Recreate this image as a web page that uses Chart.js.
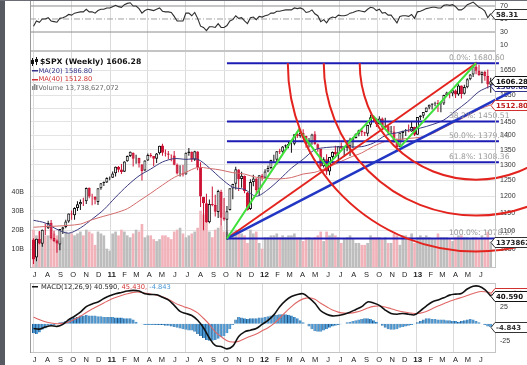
<!DOCTYPE html>
<html>
<head>
<meta charset="utf-8">
<title>$SPX Weekly</title>
<script src="https://cdn.jsdelivr.net/npm/chart.js@4.4.1/dist/chart.umd.min.js"></script>
<style>
  html, body { margin: 0; padding: 0; background: #fff; }
  #wrap { position: relative; width: 527px; height: 365px; overflow: hidden; background: #fff; }
  #wrap canvas { position: absolute; left: 0; }
  #rsiChart { top: 0; }
  #priceChart { top: 51px; }
  #macdChart { top: 281px; }
  .edge { position: absolute; left: 0; top: 0; width: 5px; height: 365px; background: #575b61; }
  .topline { position: absolute; left: 0; top: 0; width: 527px; height: 1px; background: #6a6e74; }
</style>
</head>
<body>
<div id="wrap">
  <canvas id="rsiChart" width="527" height="51"></canvas>
  <canvas id="priceChart" width="527" height="230"></canvas>
  <canvas id="macdChart" width="527" height="84"></canvas>
  <div class="edge"></div>
  <div class="topline"></div>
</div>
<script>
// ===== DATA (weekly, week 0 = Jul 2 2010) =====
const closes = [
  1022.58,1077.96,1064.88,1102.66,1101.60,1121.64,1079.25,1071.69,1064.59,1104.51,
  1109.55,1125.59,1148.67,1146.24,1165.15,1176.19,1183.08,1183.26,1225.85,1199.21,
  1199.73,1189.40,1224.71,1240.40,1243.91,1256.77,1257.64,1271.50,1293.24,1283.35,
  1276.34,1310.87,1329.15,1343.01,1319.88,1321.15,1304.28,1279.20,1313.80,1332.41,
  1328.17,1319.68,1337.38,1363.61,1340.20,1337.77,1333.27,1331.10,1300.16,1270.98,
  1271.50,1268.45,1339.67,1343.80,1316.14,1345.02,1292.28,1199.38,1178.81,1123.53,
  1176.80,1173.97,1154.23,1216.01,1136.43,1131.42,1155.46,1224.58,1238.25,1285.09,
  1253.23,1263.85,1215.65,1158.67,1244.28,1255.19,1219.66,1265.33,1257.60,1277.81,
  1289.09,1315.38,1316.33,1344.90,1342.64,1361.23,1365.74,1369.63,1370.87,1404.17,
  1397.11,1408.47,1398.08,1370.26,1378.53,1403.36,1369.10,1353.39,1295.22,1317.82,
  1278.04,1325.66,1342.84,1335.02,1362.16,1354.68,1356.78,1362.66,1385.97,1390.99,
  1405.87,1418.16,1411.13,1406.58,1437.92,1465.77,1460.15,1440.67,1460.93,1428.59,
  1433.19,1411.94,1414.20,1379.85,1359.88,1409.15,1416.18,1418.07,1413.58,1430.15,
  1402.43,1466.47,1472.05,1485.98,1502.96,1513.17,1517.93,1519.79,1515.60,1518.20,
  1551.18,1560.70,1556.89,1569.19,1553.28,1588.85,1555.25,1582.24,1614.42,1633.70,
  1667.47,1649.60,1630.74,1643.38,1626.73,1592.43,1606.28
];
const opens = [
  1076,1028,1077,1064,1102,1107,1122,1080,1073,1062,
  1103,1110,1126,1149,1144,1165,1176,1184,1185,1226,
  1200,1198,1183,1225,1241,1243,1256,1258,1272,1293,
  1284,1277,1311,1329,1340,1321,1322,1301,1281,1314,
  1333,1329,1320,1338,1365,1340,1337,1333,1331,1300,
  1271,1272,1268,1339,1343,1316,1344,1292,1198,1179,
  1124,1177,1174,1153,1214,1137,1131,1159,1224,1239,
  1284,1254,1263,1212,1162,1244,1255,1220,1265,1258,
  1278,1289,1315,1316,1345,1343,1361,1366,1370,1371,
  1405,1397,1409,1398,1370,1378,1404,1369,1353,1295,
  1318,1278,1326,1343,1335,1363,1355,1357,1362,1385,
  1391,1406,1418,1411,1406,1438,1466,1460,1441,1461,
  1429,1433,1412,1414,1380,1360,1409,1416,1418,1414,
  1430,1402,1466,1472,1486,1503,1513,1518,1520,1515,
  1518,1551,1561,1557,1569,1553,1589,1556,1582,1614,
  1634,1667,1649,1631,1644,1627,1592
];
const highs = [
  1079,1078,1099,1103,1120,1128,1130,1100,1076,1105,
  1111,1131,1149,1158,1167,1185,1190,1196,1227,1227,
  1208,1200,1225,1241,1246,1259,1262,1278,1294,1296,
  1302,1311,1331,1344,1341,1333,1323,1302,1315,1337,
  1339,1329,1339,1364,1371,1351,1346,1334,1346,1304,
  1298,1299,1341,1356,1344,1347,1345,1308,1199,1208,
  1190,1230,1205,1220,1220,1195,1171,1224,1239,1293,
  1285,1277,1265,1213,1253,1267,1256,1266,1270,1285,
  1297,1316,1333,1345,1354,1363,1368,1379,1375,1405,
  1414,1419,1422,1399,1391,1406,1415,1372,1354,1325,
  1335,1326,1344,1364,1363,1375,1357,1380,1392,1394,
  1407,1420,1426,1413,1438,1475,1467,1460,1470,1465,
  1464,1434,1434,1434,1389,1410,1417,1423,1439,1448,
  1431,1467,1473,1486,1503,1514,1518,1525,1531,1525,
  1552,1564,1563,1570,1573,1594,1589,1592,1618,1636,
  1668,1687,1674,1646,1649,1654,1620
];
const lows = [
  1011,1018,1063,1056,1088,1105,1076,1069,1040,1047,
  1091,1107,1122,1131,1131,1156,1159,1171,1177,1194,
  1173,1176,1174,1220,1232,1241,1250,1257,1262,1275,
  1270,1276,1310,1326,1294,1303,1291,1249,1279,1312,
  1324,1295,1306,1334,1330,1327,1318,1311,1298,1268,
  1262,1262,1268,1330,1309,1312,1282,1168,1101,1122,
  1121,1170,1140,1136,1114,1128,1075,1158,1191,1221,
  1216,1226,1209,1158,1159,1231,1209,1202,1248,1258,
  1275,1285,1306,1300,1336,1340,1355,1355,1340,1366,
  1391,1392,1397,1357,1358,1367,1367,1343,1292,1291,
  1267,1266,1306,1324,1309,1352,1326,1345,1329,1355,
  1389,1397,1398,1398,1397,1428,1450,1430,1439,1425,
  1425,1403,1405,1373,1343,1359,1385,1398,1411,1413,
  1398,1402,1456,1462,1485,1496,1495,1507,1486,1485,
  1512,1548,1538,1546,1539,1548,1537,1553,1578,1610,
  1623,1635,1628,1598,1608,1577,1560
];
// weekly volume, billions of shares
const volumes = [
  20,17,19,18,17,17,16,18,17,14,
  16,19,18,18,17,18,19,17,20,19,
  18,12,19,18,17,10,9,18,19,17,
  20,19,17,16,18,20,19,23,16,17,
  17,15,14,15,17,17,16,15,19,20,
  21,18,16,17,18,19,21,30,28,24,
  19,16,20,21,22,19,19,18,19,20,
  18,18,17,13,20,18,19,13,10,16,
  16,17,17,18,16,17,16,17,17,18,
  16,16,14,16,16,15,16,17,19,14,
  19,17,18,17,16,13,15,16,17,15,
  13,13,12,12,13,17,16,16,16,15,
  16,13,13,18,17,12,17,17,16,18,
  13,16,17,16,17,16,15,15,18,16,
  16,16,15,14,16,17,17,16,16,15,
  16,16,15,17,16,19,13.74
];
// moving averages, one value every 4th week (weeks 0, 4, 8 ... 156)
const ma20 = [
  1129.3,1121.7,1103.8,1093.0,1107.7,1132.7,1160.2,1197.3,1232.8,1263.7,
  1285.9,1309.0,1320.1,1317.7,1318.1,1289.5,1255.5,1227.8,1221.1,1200.2,
  1220.7,1252.7,1288.7,1318.2,1350.3,1358.0,1360.3,1359.9,1360.8,1373.4,
  1399.4,1409.4,1419.2,1426.4,1438.8,1455.8,1489.5,1523.7,1564.3,1586.8
];
const ma40 = [
  1109.5,1111.6,1112.8,1114.9,1118.5,1131.0,1141.0,1150.6,1162.9,1185.7,
  1209.3,1234.6,1258.7,1275.3,1290.9,1287.7,1282.3,1274.0,1269.4,1259.2,
  1255.1,1254.1,1258.3,1269.7,1275.3,1289.4,1306.5,1324.3,1339.5,1361.9,
  1378.7,1384.9,1389.6,1393.6,1406.1,1427.6,1449.5,1471.5,1495.4,1512.8
];
const rsi14 = [
  39,47,45,50,50,52,47,46,45,51,
  52,54,57,56,59,60,61,61,65,61,
  61,59,63,65,65,67,67,69,71,69,
  68,72,74,75,70,70,66,59,63,65,
  64,63,65,67,62,61,61,60,54,47,
  47,47,59,59,55,60,51,39,37,32,
  38,38,37,43,37,37,40,47,49,55,
  51,52,47,43,52,53,49,54,53,55,
  56,59,59,62,62,63,64,64,64,67,
  66,67,65,60,61,64,58,55,46,49,
  44,51,53,52,56,55,55,56,59,60,
  62,63,62,61,65,68,67,63,65,59,
  60,56,56,50,44,54,55,55,54,57,
  51,61,62,64,66,67,68,68,67,67,
  71,72,71,72,69,64,64,67,72,74,
  76,72,68,66,62,52,58.31
];
// MACD(12,26,9), lines one value every 2nd week (weeks 0, 2 ... 156)
const macdLine = [
  -7,-8,-5,-3,-4,-1,6,11,17,25,
  29,32,37,41,44,46,48,49,48,44,
  43,42.5,39,35,27,18,15,12,5,-6,
  -21,-32,-33.5,-37,-33,-19,-12,-9.5,-7,-1,
  5,13,25,34,40,43,44,38,30,19,
  14,11.5,12,14,17,21,25,32,30.5,27,
  20,15,14,15,14,13,19,26,32,35,
  38,42,43.5,44.5,51,55,55,50,40.59
];
const macdSignal = [
  9.5,6,3,1,0,0.5,2.5,6.5,11,16.5,
  21.5,26,30.5,35,38.5,41.5,44,46,46.5,45,
  43.5,42,39.5,36,31,27,24,21,16,8,
  -1,-12,-19,-25,-27,-26,-22,-18.5,-15,-10.5,
  -6,0,8,17,25,32,36.5,38,36,30,
  25,20,17,15.5,15.5,17,19.5,23,25.5,26,
  24.5,22,19.5,17.5,16,15,15.5,18,22,26,
  29.5,33,36,38.5,41.5,44.5,47,47,45.43
];
const macdHist = [
  -14,-15,-13,-9,-7,-3,-2,-2,-1,2,
  3,4,6,8,9,10,12,12,13,12,
  12,12,11,11,10,10,10,10,9,9,
  9,8,8,8,6,3,0,-1,-2,-2,
  -2,-2,-2,-2,-2,-3,-3,-4,-5,-6,
  -7,-8,-9,-10,-10,-12,-15,-18,-21,-24,
  -25,-25,-24,-22,-20,-18,-14,-8,-2,6,
  10,9,8,7,8,8,8,9,9,10,
  11,12,13,13,14,14,14,13,12,10,
  8,5,2,0,-4,-8,-11,-12,-12,-10,
  -8,-6,-4,-3,-2,-1,0,2,3,4,
  5,6,7,8,8,7,5,3,0,-3,
  -6,-8,-9,-9,-8,-6,-5,-4,-3,-2,
  -1,2,4,6,8,8,7,7,6,6,
  6,5,5,4,4,3,4,5,6,7,
  6,4,2,0,-2,-4,-4.843
];

// month starts in week units, and their labels
const monthTicks = [
  -0.143,4.286,8.714,13.0,17.429,21.714,26.143,30.571,34.571,39.0,43.286,47.714,
  52.0,56.429,60.857,65.143,69.571,73.857,78.286,82.714,86.857,91.286,95.571,100.0,
  104.286,108.714,113.143,117.429,121.857,126.143,130.571,135.0,139.0,143.429,147.714,152.143
];
const monthLabels = [
  "J","A","S","O","N","D","11","F","M","A","M","J",
  "J","A","S","O","N","D","12","F","M","A","M","J",
  "J","A","S","O","N","D","13","F","M","A","M","J"
];
const priceTicks = [1050,1100,1150,1200,1250,1300,1350,1400,1450,1500,1550,1600,1650];
const volumeTicks = [10,20,30,40];
const rsiTicks = [70,50,30,10];
const rsiLevels = [70,50,30];
const macdTicks = [25,-25];

// drawing tools on the price panel
const fibNames = ["0.0%","38.2%","50.0%","61.8%","100.0%"];
const fibPrices = [1680.60,1450.51,1379.44,1308.36,1078.27];
const swingWeeks = [66,90.5,100,116,125.3,151];
const swingPrices = [1078.27,1420,1295,1470,1362,1680.60];
const fanWeeks = [66,163];
const fanPrices = [1078.27,1564];
const arcRatios = [0.382,0.5,0.618];

// ===== LAYOUT =====
const X_MIN = -1.2, X_MAX = 157.8;
const LEFT = 30, RIGHT_AXIS = 31;

Chart.defaults.font.family = "'Liberation Sans', Arial, sans-serif";
Chart.defaults.font.size = 7;
Chart.defaults.color = '#333';

const upWeek = i => closes[i] >= opens[i];
const pts = (arr, step) => arr.map((v, i) => ({ x: i * step, y: v }));

function timeAxis(labelHeight) {
  return {
    type: 'linear', min: X_MIN, max: X_MAX, offset: false, bounds: 'data',
    border: { display: false },
    grid: {
      offset: false, drawTicks: false, lineWidth: 1,
      color: c => (c.index % 3 === 0 ? '#dadada' : 'rgba(0,0,0,0)')
    },
    ticks: {
      display: labelHeight > 0, autoSkip: false, maxRotation: 0, minRotation: 0,
      padding: 2, labelOffset: 1.5, color: '#222',
      font: c => (/\d/.test(monthLabels[c.index]) ? { size: 8, weight: 'bold' } : { size: 7.5 }),
      callback: (v, i) => monthLabels[i]
    },
    afterBuildTicks: s => { s.ticks = monthTicks.map(v => ({ value: v })); },
    afterFit: s => { s.height = labelHeight; s.paddingLeft = 0; s.paddingRight = 0; }
  };
}

function sideAxis(position, ticks, width, extra) {
  return Object.assign({
    position: position, bounds: 'data',
    border: { display: false },
    grid: { display: false, drawTicks: false },
    ticks: { padding: 4, color: '#333', font: { size: 7 }, callback: v => String(v) },
    afterBuildTicks: s => { s.ticks = ticks.map(v => ({ value: v })); },
    afterFit: s => { s.width = width; s.paddingTop = 0; s.paddingBottom = 0; }
  }, extra);
}

// ===== HELPERS =====
function frame(color) {
  return {
    id: 'frame',
    afterDraw(chart) {
      const a = chart.chartArea, ctx = chart.ctx;
      ctx.save();
      ctx.strokeStyle = '#c4c4c4';
      ctx.lineWidth = 1;
      ctx.strokeRect(a.left + 0.5, a.top + 0.5, a.right - a.left - 1, a.bottom - a.top - 1);
      ctx.strokeStyle = color;
      ctx.beginPath();
      ctx.moveTo(a.left + 0.5, a.top);
      ctx.lineTo(a.left + 0.5, a.bottom);
      ctx.stroke();
      ctx.restore();
    }
  };
}

function tag(ctx, y, text, stroke, color) {
  const x = 491, h = 10;
  y = Math.round(y) + 0.5;
  ctx.beginPath();
  ctx.moveTo(x, y);
  ctx.lineTo(x + 4, y - h / 2);
  ctx.lineTo(530, y - h / 2);
  ctx.lineTo(530, y + h / 2);
  ctx.lineTo(x + 4, y + h / 2);
  ctx.closePath();
  ctx.fillStyle = '#fff';
  ctx.fill();
  ctx.lineWidth = 1;
  ctx.strokeStyle = stroke;
  ctx.stroke();
  ctx.fillStyle = color;
  ctx.font = "bold 7px 'DejaVu Sans'";
  ctx.textAlign = 'left';
  ctx.textBaseline = 'middle';
  ctx.fillText(text, x + 5, y + 0.5);
}

const base = {
  responsive: false, animation: false, devicePixelRatio: 1, events: [],
  plugins: { legend: { display: false }, tooltip: { enabled: false } }
};

// ===== RSI PANEL =====
const rsiDatasets = rsiLevels.map(v => ({
  data: [{ x: X_MIN, y: v }, { x: X_MAX, y: v }],
  borderColor: v === 50 ? '#a0a0a0' : '#8c8c8c', borderWidth: 1,
  borderDash: v === 50 ? [6, 2, 1, 2] : [], pointRadius: 0, order: 5
}));
rsiDatasets.push({
  data: pts(rsi14, 1), borderColor: '#2e2e2e', borderWidth: 1.1,
  pointRadius: 0, tension: 0, order: 1
});

new Chart(document.getElementById('rsiChart'), {
  type: 'line',
  data: { datasets: rsiDatasets },
  options: Object.assign({}, base, {
    layout: { padding: { left: LEFT, top: 0, right: 0, bottom: 0 } },
    scales: {
      x: timeAxis(0),
      y: sideAxis('right', rsiTicks, RIGHT_AXIS, { type: 'linear', min: 0.77, max: 79.23 })
    }
  }),
  plugins: [frame('#9a9a9a'), {
    id: 'rsiTag',
    afterDraw(chart) {
      const ctx = chart.ctx;
      ctx.save();
      const last = rsi14[rsi14.length - 1];
      tag(ctx, chart.scales.y.getPixelForValue(last), last.toFixed(2), '#333', '#222');
      ctx.restore();
    }
  }]
});

// ===== PRICE PANEL =====
const wickData = closes.map((c, i) => ({ x: i, y: [lows[i], highs[i]] }));
const bodyData = closes.map((c, i) => ({ x: i, y: [opens[i], c] }));
const volData = volumes.map((v, i) => ({ x: i, y: v }));

const priceDatasets = [
  {
    type: 'bar', yAxisID: 'vol', data: volData, grouped: false, barThickness: 2,
    backgroundColor: volData.map((d, i) => (upWeek(i) ? '#bdbdbd' : '#f1b2ba')),
    borderWidth: 0, order: 20
  },
  {
    type: 'bar', yAxisID: 'y', data: wickData, grouped: false, barThickness: 1,
    backgroundColor: wickData.map((d, i) => (upWeek(i) ? '#111' : '#cc1133')),
    borderWidth: 0, inflateAmount: 0, order: 12
  },
  {
    type: 'bar', yAxisID: 'y', data: bodyData, grouped: false, barThickness: 3,
    backgroundColor: bodyData.map((d, i) => (upWeek(i) ? '#ffffff' : '#cc1133')),
    borderColor: bodyData.map((d, i) => (upWeek(i) ? '#111' : '#cc1133')),
    borderWidth: 1, borderSkipped: false, inflateAmount: 0, order: 11
  },
  {
    type: 'line', yAxisID: 'y', data: pts(ma20, 4), borderColor: '#3a3a80',
    borderWidth: 1, pointRadius: 0, tension: 0.3, order: 9
  },
  {
    type: 'line', yAxisID: 'y', data: pts(ma40, 4), borderColor: '#d26a6a',
    borderWidth: 1, pointRadius: 0, tension: 0.3, order: 8
  }
];
fibPrices.forEach(p => priceDatasets.push({
  type: 'line', yAxisID: 'y',
  data: [{ x: swingWeeks[0], y: p }, { x: X_MAX + 1, y: p }],
  borderColor: '#1c1cb4', borderWidth: 2, pointRadius: 0, order: 4,
  clip: { left: 0, top: 0, right: 4, bottom: 0 }
}));
priceDatasets.push({
  type: 'line', yAxisID: 'y',
  data: fanWeeks.map((w, i) => ({ x: w, y: fanPrices[i] })),
  borderColor: '#2236c4', borderWidth: 2.5, pointRadius: 0, order: 3,
  clip: { left: 0, top: 0, right: 16, bottom: 0 }
});
priceDatasets.push({
  type: 'line', yAxisID: 'y',
  data: [0, swingWeeks.length - 1].map(i => ({ x: swingWeeks[i], y: swingPrices[i] })),
  borderColor: '#e3241e', borderWidth: 2, pointRadius: 0, order: 3
});
priceDatasets.push({
  type: 'line', yAxisID: 'y',
  data: swingWeeks.map((w, i) => ({ x: w, y: swingPrices[i] })),
  borderColor: '#3fe03a', borderWidth: 2, pointRadius: 0, tension: 0, order: 2
});

const fibOverlay = {
  id: 'fibOverlay',
  afterDatasetsDraw(chart) {
    const { ctx, chartArea: a, scales } = chart;
    const last = swingWeeks.length - 1;
    const x0 = scales.x.getPixelForValue(swingWeeks[0]);
    const y0 = scales.y.getPixelForValue(swingPrices[0]);
    const x1 = scales.x.getPixelForValue(swingWeeks[last]);
    const y1 = scales.y.getPixelForValue(swingPrices[last]);
    const len = Math.hypot(x1 - x0, y1 - y0);
    ctx.save();
    ctx.beginPath();
    ctx.rect(a.left, a.top, chart.width - a.left, a.bottom - a.top);
    ctx.clip();
    ctx.strokeStyle = '#e3241e';
    ctx.lineWidth = 2;
    arcRatios.forEach(r => {
      ctx.beginPath();
      ctx.arc(x1, y1, r * len, 0, Math.PI);
      ctx.stroke();
    });
    ctx.fillStyle = '#9a9a9a';
    ctx.font = "7.6px 'DejaVu Sans'";
    ctx.textAlign = 'left';
    ctx.textBaseline = 'bottom';
    fibPrices.forEach((p, i) => {
      ctx.fillText(fibNames[i] + ': ' + p.toFixed(2), 449, scales.y.getPixelForValue(p) - 1.5);
    });
    ctx.restore();
  }
};

const priceLegend = {
  id: 'priceLegend',
  afterDraw(chart) {
    const ctx = chart.ctx, y = chart.scales.y, vol = chart.scales.vol;
    const n = closes.length - 1;
    ctx.save();
    ctx.textAlign = 'left';
    ctx.textBaseline = 'middle';
    ctx.fillStyle = '#111';
    ctx.fillRect(32, 7, 1, 8); ctx.fillRect(31, 9, 3, 4);
    ctx.fillRect(36, 6, 1, 8); ctx.fillRect(35, 8, 3, 3);
    ctx.font = "bold 7.7px 'DejaVu Sans'";
    ctx.fillText('$SPX (Weekly) ' + closes[n].toFixed(2), 40, 11);
    ctx.font = "6.7px 'DejaVu Sans'";
    ctx.fillStyle = '#34348a';
    ctx.fillRect(32, 19, 6, 1.5);
    ctx.fillText('MA(20) ' + ma20[ma20.length - 1].toFixed(2), 38.5, 19.8);
    ctx.fillStyle = '#d03030';
    ctx.fillRect(32, 28, 6, 1.5);
    ctx.fillText('MA(40) ' + ma40[ma40.length - 1].toFixed(2), 38.5, 28.6);
    ctx.fillStyle = '#8a8a8a';
    ctx.fillRect(32, 35, 1.5, 4); ctx.fillRect(34, 33, 1.5, 6); ctx.fillRect(36, 34, 1.5, 5);
    ctx.fillStyle = '#666';
    ctx.fillText('Volume 13,738,627,072', 38.5, 37.2);

    tag(ctx, vol.getPixelForValue(volumes[n]), '13738627072', '#333', '#222');
    tag(ctx, y.getPixelForValue(ma40[ma40.length - 1]), ma40[ma40.length - 1].toFixed(2), '#d03030', '#c02020');
    tag(ctx, y.getPixelForValue(ma20[ma20.length - 1]), ma20[ma20.length - 1].toFixed(2), '#34348a', '#34348a');
    tag(ctx, y.getPixelForValue(closes[n]), closes[n].toFixed(2), '#111', '#111');
    ctx.restore();
  }
};

new Chart(document.getElementById('priceChart'), {
  type: 'line',
  data: { datasets: priceDatasets },
  options: Object.assign({}, base, {
    layout: { padding: 0 },
    scales: {
      x: timeAxis(13),
      y: sideAxis('right', priceTicks, RIGHT_AXIS, {
        type: 'logarithmic', min: 1000.8, max: 1733.7,
        grid: { display: true, drawTicks: false, color: '#e3e3e3', lineWidth: 1 }
      }),
      vol: sideAxis('left', volumeTicks, LEFT, {
        type: 'linear', min: 0, max: 114.2,
        ticks: { padding: 6, color: '#333', font: { size: 7 }, callback: v => v + 'B' }
      })
    }
  }),
  plugins: [fibOverlay, frame('#9a9a9a'), priceLegend]
});

// ===== MACD PANEL =====
const histData = macdHist.map((v, i) => ({ x: i, y: v }));
new Chart(document.getElementById('macdChart'), {
  type: 'line',
  data: {
    datasets: [
      {
        type: 'bar', data: histData, grouped: false, barThickness: 3,
        backgroundColor: '#4896d2', borderColor: '#1f5586',
        borderWidth: { left: 1, right: 0, top: 0, bottom: 0 }, borderSkipped: false,
        inflateAmount: 0, order: 10
      },
      {
        data: pts(macdSignal, 2), borderColor: '#e06666', borderWidth: 1.1,
        pointRadius: 0, tension: 0.35, order: 3
      },
      {
        data: pts(macdLine, 2), borderColor: '#111', borderWidth: 1.6,
        pointRadius: 0, tension: 0.35, order: 2
      }
    ]
  },
  options: Object.assign({}, base, {
    layout: { padding: { left: LEFT, top: 2, right: 0, bottom: 0 } },
    scales: {
      x: timeAxis(12),
      y: sideAxis('right', macdTicks, RIGHT_AXIS, { type: 'linear', min: -43.1, max: 59.85 })
    }
  }),
  plugins: [frame('#9a9a9a'), {
    id: 'macdLegend',
    afterDraw(chart) {
      const ctx = chart.ctx, y = chart.scales.y;
      const m = macdLine[macdLine.length - 1], s = macdSignal[macdSignal.length - 1], h = macdHist[macdHist.length - 1];
      ctx.save();
      ctx.textAlign = 'left';
      ctx.textBaseline = 'middle';
      ctx.fillStyle = '#111';
      ctx.fillRect(32, 5, 6, 1.5);
      ctx.font = "6.7px 'DejaVu Sans'";
      let x = 41;
      const parts = [['MACD(12,26,9) ' + m.toFixed(3) + ', ', '#222'], [s.toFixed(3) + ', ', '#d03030'], [h.toFixed(3), '#4896d2']];
      parts.forEach(p => { ctx.fillStyle = p[1]; ctx.fillText(p[0], x, 5.8); x += ctx.measureText(p[0]).width; });
      tag(ctx, y.getPixelForValue(h), h.toFixed(3), '#333', '#333');
      tag(ctx, y.getPixelForValue(s), s.toFixed(3), '#d03030', '#c02020');
      tag(ctx, y.getPixelForValue(m), m.toFixed(3), '#111', '#111');
      ctx.restore();
    }
  }]
});
</script>
</body>
</html>
